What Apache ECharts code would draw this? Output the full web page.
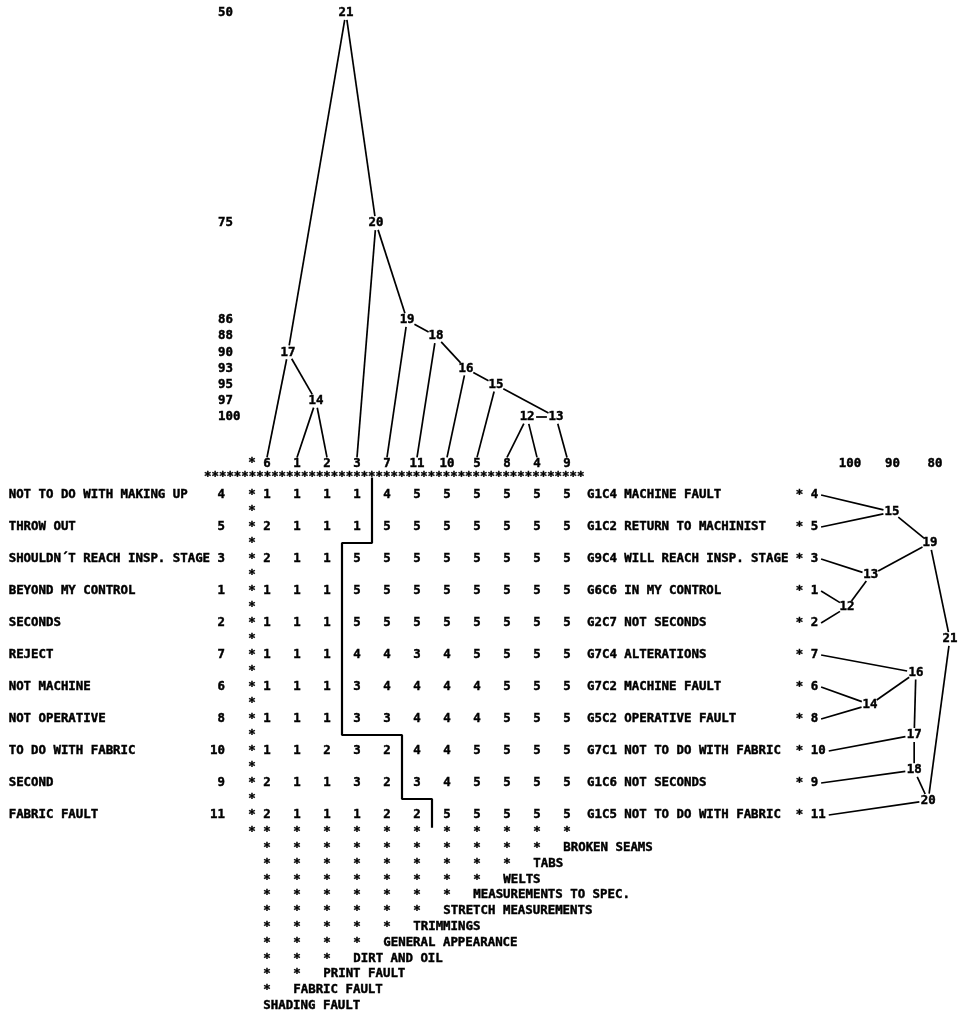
<!DOCTYPE html>
<html><head><meta charset="utf-8">
<script src="https://cdn.jsdelivr.net/npm/echarts@6/dist/echarts.min.js"></script>
<style>html,body{margin:0;padding:0;background:#fff}#c{width:962px;height:1017px}</style>
</head><body><div id="c"></div>
<script>
// ---------------- data ----------------
const colIds = [6, 1, 2, 3, 7, 11, 10, 5, 8, 4, 9];
const colNames = ['SHADING FAULT', 'FABRIC FAULT', 'PRINT FAULT', 'DIRT AND OIL', 'GENERAL APPEARANCE',
  'TRIMMINGS', 'STRETCH MEASUREMENTS', 'MEASUREMENTS TO SPEC.', 'WELTS', 'TABS', 'BROKEN SEAMS'];
const rowIds = [4, 5, 3, 1, 2, 7, 6, 8, 10, 9, 11];
const leftPoles = ['NOT TO DO WITH MAKING UP', 'THROW OUT', 'SHOULDN\u00B4T REACH INSP. STAGE', 'BEYOND MY CONTROL',
  'SECONDS', 'REJECT', 'NOT MACHINE', 'NOT OPERATIVE', 'TO DO WITH FABRIC', 'SECOND', 'FABRIC FAULT'];
const rightPoles = ['G1C4 MACHINE FAULT', 'G1C2 RETURN TO MACHINIST', 'G9C4 WILL REACH INSP. STAGE', 'G6C6 IN MY CONTROL',
  'G2C7 NOT SECONDS', 'G7C4 ALTERATIONS', 'G7C2 MACHINE FAULT', 'G5C2 OPERATIVE FAULT',
  'G7C1 NOT TO DO WITH FABRIC', 'G1C6 NOT SECONDS', 'G1C5 NOT TO DO WITH FABRIC'];
const ratings = [
  [1, 1, 1, 1, 4, 5, 5, 5, 5, 5, 5],
  [2, 1, 1, 1, 5, 5, 5, 5, 5, 5, 5],
  [2, 1, 1, 5, 5, 5, 5, 5, 5, 5, 5],
  [1, 1, 1, 5, 5, 5, 5, 5, 5, 5, 5],
  [1, 1, 1, 5, 5, 5, 5, 5, 5, 5, 5],
  [1, 1, 1, 4, 4, 3, 4, 5, 5, 5, 5],
  [1, 1, 1, 3, 4, 4, 4, 4, 5, 5, 5],
  [1, 1, 1, 3, 3, 4, 4, 4, 5, 5, 5],
  [1, 1, 2, 3, 2, 4, 4, 5, 5, 5, 5],
  [2, 1, 1, 3, 2, 3, 4, 5, 5, 5, 5],
  [2, 1, 1, 1, 2, 2, 5, 5, 5, 5, 5]
];
// step boundary drawn through the matrix (column, row)
const boundary = [[3.5, -0.55], [3.5, 1.5], [2.5, 1.5], [2.5, 7.5], [4.5, 7.5], [4.5, 9.5], [5.5, 9.5], [5.5, 10.4]];

// top (element) tree: print-line tick labels
const levelTicks = ['50', '', '', '', '', '', '', '', '', '', '', '', '', '75', '', '', '', '', '', '86', '88', '90', '93', '95', '97', '100', '', '', ''];
const topNodeIds = [12, 13, 14, 15, 16, 17, 18, 19, 20, 21];
const topNodeCol = [8.67, 9.63, 1.63, 7.63, 6.63, 0.7, 5.63, 4.67, 3.63, 2.63];
const topNodeLevel = [100, 100, 97, 95, 93, 90, 88, 86, 75, 50];
const topEdges = [[8, 12], [4, 12], [12, 13], [9, 13], [1, 14], [2, 14], [5, 15], [13, 15], [10, 16], [15, 16],
  [6, 17], [14, 17], [11, 18], [16, 18], [7, 19], [18, 19], [3, 20], [19, 20], [17, 21], [20, 21]];

// right (construct) tree
const rightTicks = [100, 90, 80];
const rightNodeIds = [12, 13, 14, 15, 16, 17, 18, 19, 20, 21];
const rightNodeSim = [100.7, 95.1, 95.3, 90.1, 84.5, 84.9, 84.9, 81.2, 81.6, 76.5];
const rightNodeRow = [3.5, 2.5, 6.55, 0.53, 5.55, 7.5, 8.6, 1.5, 9.55, 4.5];
const rightEdges = [[1, 12], [2, 12], [3, 13], [12, 13], [6, 14], [8, 14], [4, 15], [5, 15], [7, 16], [14, 16],
  [16, 17], [10, 17], [17, 18], [9, 18], [13, 19], [15, 19], [18, 20], [11, 20], [19, 21], [20, 21]];

// ---------------- helpers ----------------
const FAM = '"DejaVu Sans Mono", monospace';
const FS = 12.4;
const FONT = 'bold ' + FS + 'px ' + FAM;
const HALF_CHAR = FS * 0.301;
const INK = 0.45;
function txt(x, y, text, align) {
  return { type: 'text', x: x, y: y, silent: true,
    style: { text: String(text), font: FONT, fill: '#000', stroke: '#000', lineWidth: INK,
      align: align || 'center', verticalAlign: 'middle' } };
}
function trim(p, q, rx, ry) {
  const dx = q[0] - p[0], dy = q[1] - p[1];
  const t = 1 / Math.sqrt((dx / rx) * (dx / rx) + (dy / ry) * (dy / ry));
  return [p[0] + dx * t, p[1] + dy * t];
}
function edgeRender(rx, ry) {
  return function (params, api) {
    const a = api.coord([api.value(0), api.value(1)]);
    const b = api.coord([api.value(2), api.value(3)]);
    const a2 = api.value(4) ? trim(a, b, rx, ry) : a;
    const b2 = trim(b, a, rx, ry);
    return { type: 'line', silent: true, shape: { x1: a2[0], y1: a2[1], x2: b2[0], y2: b2[1] },
      style: { stroke: '#000', lineWidth: 1.7 } };
  };
}

// matrix cells
const cells = [];
ratings.forEach((row, r) => row.forEach((v, c) => cells.push([c, r, v])));
// left asterisk column
const leftStars = [[-0.5, -1]];
for (let r = 0; r <= rowIds.length - 1; r += 0.5) leftStars.push([-0.5, r]);

// top tree geometry
const leafLine = levelTicks.length - 1.5;
function topPoint(id) {
  const k = topNodeIds.indexOf(id);
  if (k < 0) return [colIds.indexOf(id), leafLine, 0];
  return [topNodeCol[k], levelTicks.indexOf(String(topNodeLevel[k])), 1];
}
const topEdgeData = topEdges.map(e => { const a = topPoint(e[0]), b = topPoint(e[1]); return [a[0], a[1], b[0], b[1], a[2]]; });
const topLabelData = topNodeIds.map(id => { const p = topPoint(id); return [p[0], p[1]]; });

// right tree geometry
function rightPoint(id) {
  const k = rightNodeIds.indexOf(id);
  if (k < 0) return [108.6 - 1.8 * String(id).length, rowIds.indexOf(id), 0];
  return [rightNodeSim[k], rightNodeRow[k], 1];
}
const rightEdgeData = rightEdges.map(e => { const a = rightPoint(e[0]), b = rightPoint(e[1]); return [a[0], a[1], b[0], b[1], a[2]]; });
const rightLabelData = rightNodeIds.map(id => { const p = rightPoint(id); return [p[0], p[1]]; });

// bottom element-name staircase
const bottomData = [], bottomText = [];
bottomData.push([-0.5, 0]); bottomText.push('*');
colIds.forEach((_, c) => { bottomData.push([c, 0]); bottomText.push('*'); });
for (let k = 1; k <= colIds.length; k++) {
  for (let c = 0; c <= colIds.length - 1 - k; c++) { bottomData.push([c, k]); bottomText.push('*'); }
  bottomData.push([colIds.length - k, k]); bottomText.push(colNames[colIds.length - k]);
}

const labelStyle = { fontFamily: FAM, fontSize: FS, fontWeight: 'bold', color: '#000',
  textBorderColor: '#000', textBorderWidth: INK };
const hidden = { show: false };

const option = {
  animation: false,
  backgroundColor: '#fff',
  grid: [
    { left: 252, top: 479, width: 330, height: 352 },
    { left: 252, top: 4.92, width: 330, height: 468.64 },
    { left: 252, top: 824.1, width: 330, height: 189.6 },
    { left: 807.5, top: 479, width: 127.5, height: 352 }
  ],
  xAxis: [
    { gridIndex: 0, type: 'category', data: colIds.map(String), position: 'top',
      axisLine: hidden, axisTick: hidden, splitLine: hidden,
      axisLabel: Object.assign({ interval: 0, margin: 9 }, labelStyle) },
    { gridIndex: 0, type: 'value', min: -0.5, max: 10.5, show: false },
    { gridIndex: 1, type: 'value', min: -0.5, max: 10.5, show: false },
    { gridIndex: 2, type: 'value', min: -0.5, max: 10.5, show: false },
    { gridIndex: 3, type: 'value', min: 80, max: 110, interval: 10, inverse: true, position: 'top',
      axisLine: hidden, axisTick: hidden, splitLine: hidden,
      axisLabel: Object.assign({ margin: 9, showMinLabel: true,
        formatter: v => rightTicks.indexOf(v) >= 0 ? String(v) : '' }, labelStyle) }
  ],
  yAxis: [
    { gridIndex: 0, type: 'category', data: leftPoles, inverse: true, position: 'left',
      axisLine: hidden, axisTick: hidden, splitLine: hidden,
      axisLabel: Object.assign({ interval: 0, margin: 27,
        formatter: (v, i) => v.padEnd(27) + String(rowIds[i]).padStart(2) }, labelStyle) },
    { gridIndex: 0, type: 'category', data: rightPoles, inverse: true, position: 'right',
      axisLine: hidden, axisTick: hidden, splitLine: hidden,
      axisLabel: Object.assign({ interval: 0, margin: 5,
        formatter: (v, i) => v.padEnd(28) + '* ' + rowIds[i] }, labelStyle) },
    { gridIndex: 0, type: 'value', min: -0.5, max: 10.5, inverse: true, show: false },
    { gridIndex: 1, type: 'category', data: levelTicks, inverse: true, position: 'left',
      axisLine: hidden, axisTick: hidden, splitLine: hidden,
      axisLabel: Object.assign({ interval: 0, margin: 34, align: 'left' }, labelStyle) },
    { gridIndex: 1, type: 'value', min: -0.5, max: levelTicks.length - 0.5, inverse: true, show: false },
    { gridIndex: 2, type: 'value', min: -0.5, max: 11.5, inverse: true, show: false },
    { gridIndex: 3, type: 'value', min: -0.5, max: 10.5, inverse: true, show: false }
  ],
  series: [
    { type: 'custom', xAxisIndex: 1, yAxisIndex: 2, clip: false, silent: true, data: cells,
      renderItem: (p, api) => { const c = api.coord([api.value(0), api.value(1)]); return txt(c[0], c[1], api.value(2)); } },
    { type: 'custom', xAxisIndex: 1, yAxisIndex: 2, clip: false, silent: true, data: leftStars,
      renderItem: (p, api) => { const c = api.coord([api.value(0), api.value(1)]); return txt(c[0], c[1], '*'); } },
    { type: 'custom', xAxisIndex: 1, yAxisIndex: 2, clip: false, silent: true, data: [[-2.1, -0.56]],
      renderItem: (p, api) => { const c = api.coord([api.value(0), api.value(1)]); return txt(c[0], c[1], '*'.repeat(51), 'left'); } },
    { type: 'line', xAxisIndex: 1, yAxisIndex: 2, clip: false, silent: true, data: boundary,
      symbol: 'none', lineStyle: { color: '#000', width: 2.2 } },
    { type: 'custom', xAxisIndex: 2, yAxisIndex: 4, clip: false, silent: true, data: topEdgeData,
      encode: { x: [0, 2], y: [1, 3] }, renderItem: edgeRender(9, 7) },
    { type: 'custom', xAxisIndex: 2, yAxisIndex: 4, clip: false, silent: true, data: topLabelData,
      renderItem: (p, api) => { const c = api.coord([api.value(0), api.value(1)]); return txt(c[0], c[1], topNodeIds[p.dataIndex]); } },
    { type: 'custom', xAxisIndex: 3, yAxisIndex: 5, clip: false, silent: true, data: bottomData,
      renderItem: (p, api) => {
        const c = api.coord([api.value(0), api.value(1)]);
        const t = bottomText[p.dataIndex];
        return t === '*' ? txt(c[0], c[1], t) : txt(c[0] - HALF_CHAR, c[1], t, 'left');
      } },
    { type: 'custom', xAxisIndex: 4, yAxisIndex: 6, clip: false, silent: true, data: rightEdgeData,
      encode: { x: [0, 2], y: [1, 3] }, renderItem: edgeRender(9, 7) },
    { type: 'custom', xAxisIndex: 4, yAxisIndex: 6, clip: false, silent: true, data: rightLabelData,
      renderItem: (p, api) => { const c = api.coord([api.value(0), api.value(1)]); return txt(c[0], c[1], rightNodeIds[p.dataIndex]); } }
  ]
};
const chart = echarts.init(document.getElementById('c'));
chart.setOption(option);
</script>
</body></html>
